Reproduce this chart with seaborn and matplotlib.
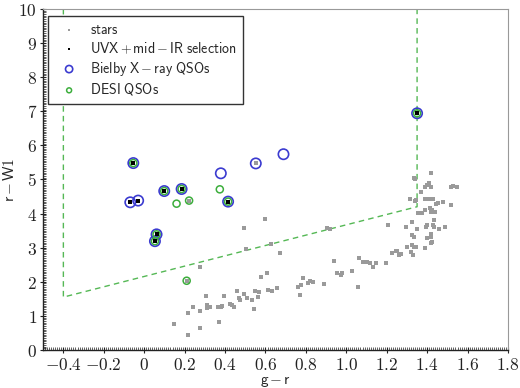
import numpy as np
import pandas as pd
import matplotlib
matplotlib.use("Agg")
import matplotlib.pyplot as plt
from matplotlib.ticker import MultipleLocator
import seaborn as sns

# stars (g-r, r-W1)
star_gr = [0.494, 0.60, 0.503, 0.626, 0.672, 0.277, 0.577, 0.605, 0.461, 0.494, 0.547, 0.568, 0.61, 0.63,
           0.656, 0.305, 0.395, 0.47, 0.475, 0.508, 0.532, 0.564, 0.424, 0.434, 0.445, 0.313, 0.326, 0.313,
           0.363, 0.379, 0.386, 0.24, 0.277, 0.219, 0.541, 0.369, 0.148, 0.274, 0.219,
           0.906, 0.92, 1.206, 1.294, 0.94, 1.063, 1.08, 1.10, 1.117, 1.145, 1.132, 1.195, 1.228, 1.244,
           1.26, 1.269, 1.299, 0.952, 0.972, 0.98, 1.027, 1.06, 0.89, 0.761, 0.775, 0.788, 0.808, 0.82,
           0.834, 0.77,
           1.417, 1.335, 1.34, 1.409, 1.397, 1.39, 1.417, 1.516, 1.53, 1.546, 1.368, 1.315, 1.34, 1.347,
           1.39, 1.41, 1.43, 1.455, 1.478, 1.442, 1.516, 1.412, 1.425, 1.437, 1.417, 1.39, 1.356, 1.364,
           1.376, 1.323, 1.351, 1.393, 1.40, 1.43, 1.434, 1.434, 1.458, 1.488, 1.323, 1.335, 1.40, 1.42,
           1.417, 1.417, 1.422, 1.327, 1.335, 1.343, 1.387, 1.318, 1.33, 1.25,
           0.552, 0.222, 0.21]
star_rw1 = [3.57, 3.85, 2.95, 3.11, 2.83, 2.44, 2.15, 2.25, 1.73, 1.64, 1.73, 1.71, 1.76, 1.74,
            1.81, 1.58, 1.58, 1.52, 1.47, 1.51, 1.47, 1.55, 1.35, 1.32, 1.27, 1.32, 1.25, 1.22,
            1.25, 1.27, 1.29, 1.25, 1.15, 1.08, 1.21, 0.83, 0.76, 0.65, 0.43,
            3.57, 3.54, 3.67, 3.62, 2.62, 2.69, 2.59, 2.59, 2.56, 2.56, 2.44, 2.54, 2.83, 2.90,
            2.79, 2.81, 3.03, 2.25, 2.20, 2.27, 2.33, 1.84, 1.93, 1.86, 1.90, 2.10, 1.96, 2.03,
            1.99, 1.61,
            5.18, 5.03, 5.0, 4.89, 4.84, 4.79, 4.79, 4.79, 4.82, 4.77, 4.62, 4.43, 4.37, 4.40,
            4.42, 4.43, 4.43, 4.30, 4.33, 4.27, 4.24, 4.15, 4.11, 4.06, 4.06, 4.11, 4.01, 4.03,
            4.01, 3.76, 3.54, 3.60, 3.67, 3.67, 3.62, 3.81, 3.54, 3.62, 3.37, 3.32, 3.27, 3.39,
            3.30, 3.13, 3.18, 3.08, 3.03, 3.03, 3.0, 2.88, 2.79, 2.91,
            5.47, 4.38, 2.03]

# UVX + mid-IR selection
uvx_gr = [-0.054, -0.069, -0.030, 0.099, 0.185, 0.415, 0.053, 0.061, 1.35]
uvx_rw1 = [5.48, 4.33, 4.38, 4.66, 4.72, 4.35, 3.19, 3.39, 6.94]

# Bielby X-ray QSOs
bielby_gr = [-0.054, -0.069, -0.030, 0.099, 0.185, 0.415, 0.053, 0.061, 1.35, 0.379, 0.552, 0.689]
bielby_rw1 = [5.48, 4.33, 4.38, 4.66, 4.72, 4.35, 3.19, 3.39, 6.94, 5.18, 5.47, 5.74]

# DESI QSOs
desi_gr = [-0.054, 0.099, 0.185, 0.415, 0.053, 0.061, 1.35, 0.16, 0.222, 0.374, 0.21]
desi_rw1 = [5.48, 4.66, 4.72, 4.35, 3.19, 3.39, 6.94, 4.29, 4.38, 4.71, 2.03]

# selection wedge
wedge_gr = [-0.4, -0.4, 1.35, 1.35]
wedge_rw1 = [10.0, 1.55, 4.2, 10.0]

xticks = [-0.4, -0.2, 0.0, 0.2, 0.4, 0.6, 0.8, 1.0, 1.2, 1.4, 1.6, 1.8]
xtick_labels = ['-0.4', '-0.2', '0', '0.2', '0.4', '0.6', '0.8', '1.0', '1.2', '1.4', '1.6', '1.8']
yticks = [0, 1, 2, 3, 4, 5, 6, 7, 8, 9, 10]
ytick_labels = ['0', '1', '2', '3', '4', '5', '6', '7', '8', '9', '10']


def sf(s):
    # computer-modern sans via mathtext, tighter spacing round the operators
    s = s.replace(' + ', r'\,{+}\,').replace(' - ', r'\,{-}\,').replace(' ', r'\ ')
    return r'$\mathsf{' + s + '}$'


sns.set_style("white")
plt.rcParams['font.family'] = ['DejaVu Sans']
plt.rcParams['mathtext.fontset'] = 'cm'

fig = plt.figure(figsize=(5.2, 3.88), dpi=100)
ax = fig.add_axes([0.083, 0.098, 0.894, 0.879])

ax.plot(wedge_gr, wedge_rw1, color='#55b855', ls=(0, (4, 3)), lw=1.0, zorder=1)

sns.scatterplot(x=star_gr, y=star_rw1, ax=ax, color='#9a9a9a', marker='s', s=7, linewidth=0,
                label=sf('stars'), zorder=2)
sns.scatterplot(x=uvx_gr, y=uvx_rw1, ax=ax, color='black', marker='s', s=7, linewidth=0,
                label=sf('UVX + mid - IR selection'), zorder=5)
sns.scatterplot(x=bielby_gr, y=bielby_rw1, ax=ax, marker='o', s=55, facecolor='none',
                edgecolor='#3b3bd0', linewidth=1.2, label=sf('Bielby X - ray QSOs'), zorder=3)
sns.scatterplot(x=desi_gr, y=desi_rw1, ax=ax, marker='o', s=26, facecolor='none',
                edgecolor='#3cae3c', linewidth=1.1, label=sf('DESI QSOs'), zorder=4)

ax.set_xlim(-0.5, 1.8)
ax.set_ylim(0, 10)
ax.set_xticks(xticks)
ax.set_xticklabels([sf(t) for t in xtick_labels])
ax.set_yticks(yticks)
ax.set_yticklabels([sf(t) for t in ytick_labels])
ax.xaxis.set_minor_locator(MultipleLocator(0.01))
ax.yaxis.set_minor_locator(MultipleLocator(0.05))
ax.tick_params(which='major', direction='inout', length=5, width=0.8, labelsize=12.5,
               colors='#222222', pad=2)
ax.tick_params(which='minor', direction='in', length=2.5, width=0.5, colors='#222222')
ax.tick_params(which='both', top=False, right=False, bottom=True, left=True)

for side in ['left', 'bottom']:
    ax.spines[side].set_color('#222222')
    ax.spines[side].set_linewidth(1.0)
for side in ['top', 'right']:
    ax.spines[side].set_color('#999999')
    ax.spines[side].set_linewidth(0.8)

ax.set_xlabel(sf('g - r'), fontsize=11, labelpad=0)
ax.set_ylabel(sf('r - W1'), fontsize=11, labelpad=1)

leg = ax.legend(loc='upper left', bbox_to_anchor=(0.011, 0.98), fontsize=10, frameon=True,
                fancybox=False, edgecolor='#333333', framealpha=1, borderaxespad=0,
                handletextpad=0.5, labelspacing=0.27, borderpad=0.5, markerscale=0.7)
leg.get_frame().set_linewidth(1.0)

fig.savefig('out.png', dpi=100)
